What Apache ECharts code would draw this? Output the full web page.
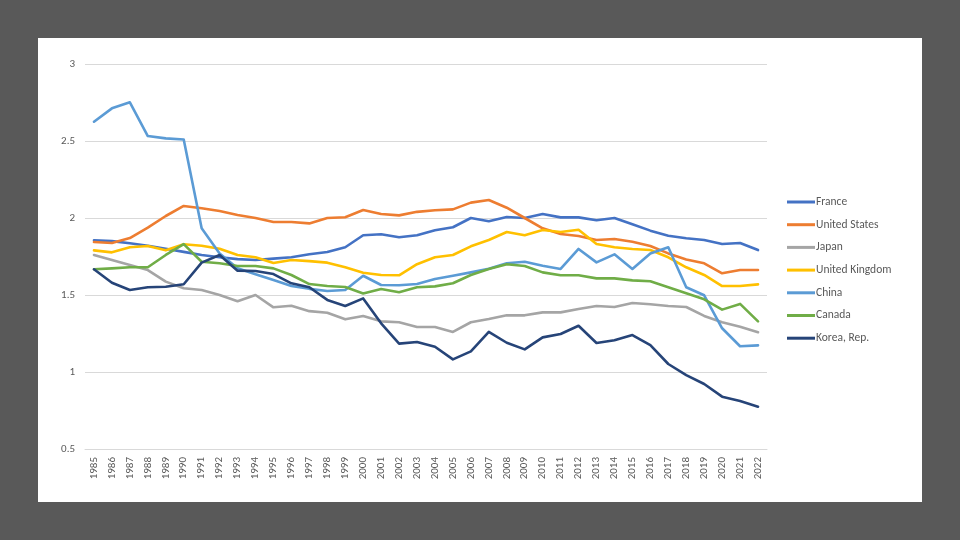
<!DOCTYPE html>
<html>
<head>
<meta charset="utf-8">
<script src="https://cdn.jsdelivr.net/npm/echarts@6/dist/echarts.min.js"></script>
<style>
html,body{margin:0;padding:0;width:960px;height:540px;background:#595959;overflow:hidden;}
#chart{position:absolute;left:38px;top:38px;width:884px;height:464px;background:#ffffff;}
</style>
</head>
<body>
<div id="chart"></div>
<script>
const years = ['1985','1986','1987','1988','1989','1990','1991','1992','1993','1994','1995','1996','1997','1998','1999','2000','2001','2002','2003','2004','2005','2006','2007','2008','2009','2010','2011','2012','2013','2014','2015','2016','2017','2018','2019','2020','2021','2022'];
const seriesNames = ['France','United States','Japan','United Kingdom','China','Canada','Korea, Rep.'];
const france = [1.855,1.85,1.836,1.82,1.80,1.78,1.76,1.745,1.733,1.727, 1.736,1.745,1.765,1.779,1.81,1.888,1.894,1.875,1.888,1.92, 1.94,2.0,1.979,2.006,2.0,2.026,2.004,2.004,1.985,2.0, 1.959,1.918,1.885,1.868,1.857,1.831,1.838,1.792];
const unitedStates = [1.844,1.838,1.87,1.937,2.013,2.078,2.063,2.045,2.02,2.0, 1.974,1.974,1.965,2.0,2.005,2.052,2.026,2.017,2.04,2.05, 2.056,2.10,2.117,2.067,2.0,1.933,1.896,1.883,1.857,1.864, 1.846,1.818,1.77,1.73,1.706,1.641,1.662,1.662];
const japan = [1.76,1.727,1.695,1.662,1.587,1.544,1.532,1.5,1.459,1.5, 1.42,1.43,1.395,1.385,1.342,1.364,1.329,1.323,1.292,1.292, 1.26,1.323,1.344,1.368,1.368,1.387,1.387,1.409,1.429,1.422, 1.448,1.44,1.429,1.422,1.364,1.323,1.294,1.258];
const unitedKingdom = [1.79,1.777,1.81,1.818,1.79,1.83,1.82,1.80,1.76,1.745, 1.708,1.727,1.72,1.71,1.68,1.645,1.63,1.628,1.70,1.745, 1.76,1.816,1.857,1.909,1.888,1.922,1.909,1.924,1.831,1.81, 1.799,1.792,1.745,1.68,1.63,1.558,1.558,1.569];
const china = [2.625,2.712,2.751,2.532,2.517,2.51,1.933,1.77,1.673,1.635, 1.597,1.558,1.54,1.526,1.532,1.625,1.565,1.563,1.571,1.604, 1.625,1.647,1.671,1.706,1.716,1.69,1.669,1.799,1.712,1.764, 1.669,1.77,1.81,1.55,1.498,1.284,1.167,1.173];
const canada = [1.667,1.673,1.68,1.68,1.76,1.83,1.716,1.706,1.688,1.688, 1.673,1.63,1.571,1.558,1.552,1.51,1.539,1.518,1.55,1.556, 1.576,1.63,1.669,1.70,1.688,1.647,1.628,1.628,1.608,1.608, 1.595,1.589,1.55,1.511,1.472,1.405,1.442,1.329];
const korea = [1.667,1.58,1.532,1.55,1.554,1.57,1.71,1.76,1.658,1.656, 1.636,1.576,1.55,1.468,1.429,1.478,1.316,1.184,1.195,1.164, 1.082,1.134,1.26,1.19,1.147,1.225,1.247,1.30,1.188,1.206, 1.24,1.175,1.052,0.98,0.922,0.84,0.812,0.775];
const colors = ['#4472C4','#ED7D31','#A5A5A5','#FFC000','#5B9BD5','#70AD47','#264478'];
const allData = [france, unitedStates, japan, unitedKingdom, china, canada, korea];

const chart = echarts.init(document.getElementById('chart'), null, {renderer:'canvas'});
const font = 'Calibri, Carlito, "Liberation Sans", Arial, sans-serif';
chart.setOption({
  animation:false,
  color: colors,
  textStyle:{fontFamily:font},
  grid:{left:47,right:155,top:26,bottom:53,containLabel:false},
  legend:{
    orient:'vertical', left:744, top:152, itemWidth:28, itemHeight:3, itemGap:8.7,
    icon:'rect',
    textStyle:{fontSize:11.5,color:'#595959',lineHeight:14,padding:[0,0,0,-4],fontFamily:font},
    data: seriesNames
  },
  xAxis:{
    type:'category', data:years, boundaryGap:true,
    axisLine:{show:true,lineStyle:{color:'#d9d9d9',width:1}},
    axisTick:{show:false},
    axisLabel:{rotate:90,margin:8,fontSize:11,color:'#595959',interval:0,fontFamily:font},
    splitLine:{show:false}
  },
  yAxis:{
    type:'value', min:0.5, max:3, interval:0.5,
    axisLine:{show:false}, axisTick:{show:false},
    axisLabel:{fontSize:11,color:'#595959',margin:10,fontFamily:font},
    splitLine:{lineStyle:{color:'#d9d9d9',width:1}}
  },
  series: seriesNames.map((n,i)=>({
    name:n, type:'line', data:allData[i], showSymbol:false, symbol:'none',
    lineStyle:{width:2.6,color:colors[i],join:'round',cap:'round'},
    itemStyle:{color:colors[i]}
  }))
});
</script>
</body>
</html>
